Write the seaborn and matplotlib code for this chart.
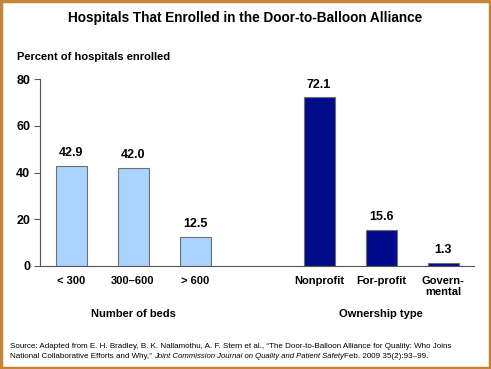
import pandas as pd
import numpy as np
import matplotlib.pyplot as plt
import seaborn as sns
from matplotlib.patches import Rectangle

# chart data
categories = ["< 300", "300\u2013600", "> 600", "Nonprofit", "For-profit", "Govern-\nmental"]
values = [42.9, 42.0, 12.5, 72.1, 15.6, 1.3]
groups = ["beds", "beds", "beds", "owner", "owner", "owner"]
order = ["< 300", "300\u2013600", "> 600", "", "Nonprofit", "For-profit", "Govern-\nmental"]
group_labels = ["Number of beds", "Ownership type"]
yticks = [0, 20, 40, 60, 80]

sns.set_style("white")
plt.rcParams['font.family'] = ['Liberation Sans', 'DejaVu Sans']
plt.rcParams['text.color'] = 'black'
plt.rcParams['xtick.color'] = 'black'
plt.rcParams['ytick.color'] = 'black'

df = pd.DataFrame({"category": categories, "value": values, "group": groups})

fig = plt.figure(figsize=(4.91, 3.69), dpi=100)
ax = fig.add_axes([40 / 491, 1 - 266 / 369, 434 / 491, 187 / 369])

sns.barplot(data=df, x="category", y="value", hue="group", order=order,
            palette={"beds": "#A9D4FF", "owner": "#000C8C"}, saturation=1,
            edgecolor="#6E6E6E", linewidth=0.8, width=0.5, dodge=False,
            legend=False, ax=ax)

for cont in ax.containers:
    ax.bar_label(cont, fmt="%.1f", padding=5, fontsize=9, fontweight="bold")

ax.set_ylim(0, 80)
ax.set_xlim(-0.5, len(order) - 0.5)
ax.set_yticks(yticks)
ax.set_yticklabels([str(t) for t in yticks], fontsize=9, fontweight="bold")
ax.set_xticks(range(len(order)))
ax.set_xticklabels(order, fontsize=8, fontweight="bold")
ax.set_xticks(np.arange(-0.5, len(order)), minor=True)
ax.tick_params(axis="x", which="major", length=0, pad=7)
ax.tick_params(axis="x", which="minor", length=4, width=0.8, color="#555555", direction="out")
ax.tick_params(axis="y", length=4, width=0.8, color="#555555", direction="out", left=True, pad=3)
ax.set_xlabel("")
ax.set_ylabel("")
for s in ["top", "right"]:
    ax.spines[s].set_visible(False)
for s in ["left", "bottom"]:
    ax.spines[s].set_color("#555555")
    ax.spines[s].set_linewidth(0.8)

# group labels under the ticks
ax.text(1, -0.255, group_labels[0], transform=ax.get_xaxis_transform(),
        ha="center", va="center", fontsize=8, fontweight="bold")
ax.text(5, -0.255, group_labels[1], transform=ax.get_xaxis_transform(),
        ha="center", va="center", fontsize=8, fontweight="bold")

fig.text(245 / 491, 1 - 18 / 369, "Hospitals That Enrolled in the Door-to-Balloon Alliance",
         ha="center", va="center", fontsize=9.8, fontweight="bold")
fig.text(17 / 491, 1 - 57 / 369, "Percent of hospitals enrolled",
         ha="left", va="center", fontsize=8, fontweight="bold")

# source note
fig.text(10 / 491, 1 - 347 / 369,
         "Source: Adapted from E. H. Bradley, B. K. Nallamothu, A. F. Stern et al., \u201cThe Door-to-Balloon Alliance for Quality: Who Joins",
         ha="left", va="center", fontsize=5.8)
t1 = fig.text(10 / 491, 1 - 357 / 369,
              "National Collaborative Efforts and Why,\u201d ",
              ha="left", va="center", fontsize=5.8)
t2 = ax.annotate("Joint Commission Journal on Quality and Patient Safety",
                 xy=(1, 0.5), xycoords=t1, ha="left", va="center",
                 fontsize=5.6, fontstyle="italic", annotation_clip=False)
ax.annotate("Feb. 2009 35(2):93\u201399.", xy=(1, 0.5), xycoords=t2,
            ha="left", va="center", fontsize=5.8, annotation_clip=False)

fig.patches.append(Rectangle((0.003, 0.004), 0.994, 0.992, transform=fig.transFigure,
                             fill=False, edgecolor="#C4843A", linewidth=2.5))

fig.savefig("out.png", dpi=100)
